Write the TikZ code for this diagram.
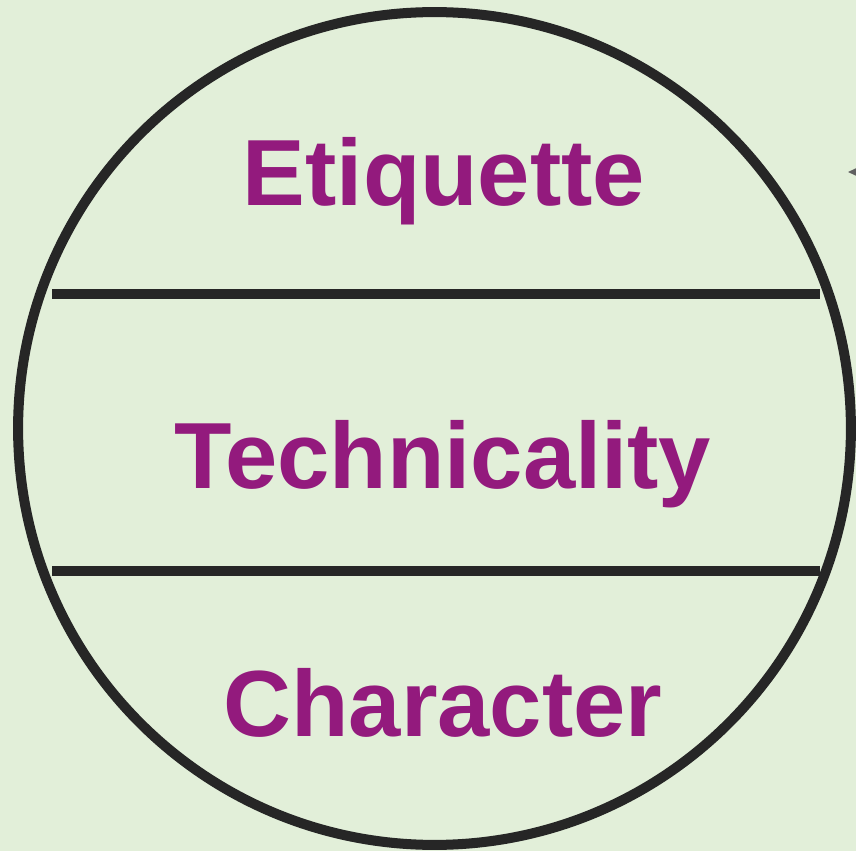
\documentclass[tikz,border=0pt]{standalone}
\usepackage{fontspec}
\setmainfont{Liberation Sans}
\usetikzlibrary{arrows.meta}
\definecolor{bgreen}{HTML}{E2EFD9}
\definecolor{ringgray}{HTML}{262626}
\definecolor{layerpurple}{HTML}{931A7D}
\tikzset{
	every path/.style={line width=5.7pt},
	ring/.style={
		draw=ringgray,
		circle,
		inner sep=0pt,
	},
	divider/.style={
		draw=ringgray,
	},
	layer/.style={
		text=layerpurple,
		font=\fontsize{53.5}{60}\selectfont\bfseries,
		anchor=base,
		inner sep=0pt,
	},
	pointer/.style={
		draw=none,
		-{Triangle[length=12pt,width=11pt]},
		fill=gray!75!black,
	},
}
\begin{document}
\begin{tikzpicture}[x=0.02cm,y=-0.02cm]
		\fill[bgreen] (0,0) rectangle (856,851);
		\useasboundingbox (0,0) rectangle (856,851);

		\node[ring,minimum size=16.66cm] (disc) at (434.5,428.5) {};

		\coordinate (topL) at (52,294);
		\coordinate (topR) at (820,294);
		\coordinate (botL) at (52,571);
		\coordinate (botR) at (820,571);
		\draw[divider] (topL) -- (topR);
		\draw[divider] (botL) -- (botR);

		\node[layer] (etiq) at (444,206) {Etiquette};
		\node[layer] (tech) at (443,488) {Technicality};
		\node[layer] (char) at (443,736) {Character};

		\coordinate (src) at (900,172);
		\coordinate (tip) at (848,172);
		\draw[pointer,line width=1pt,draw=gray!75!black] (src) -- (tip);

	\end{tikzpicture}
\end{document}
